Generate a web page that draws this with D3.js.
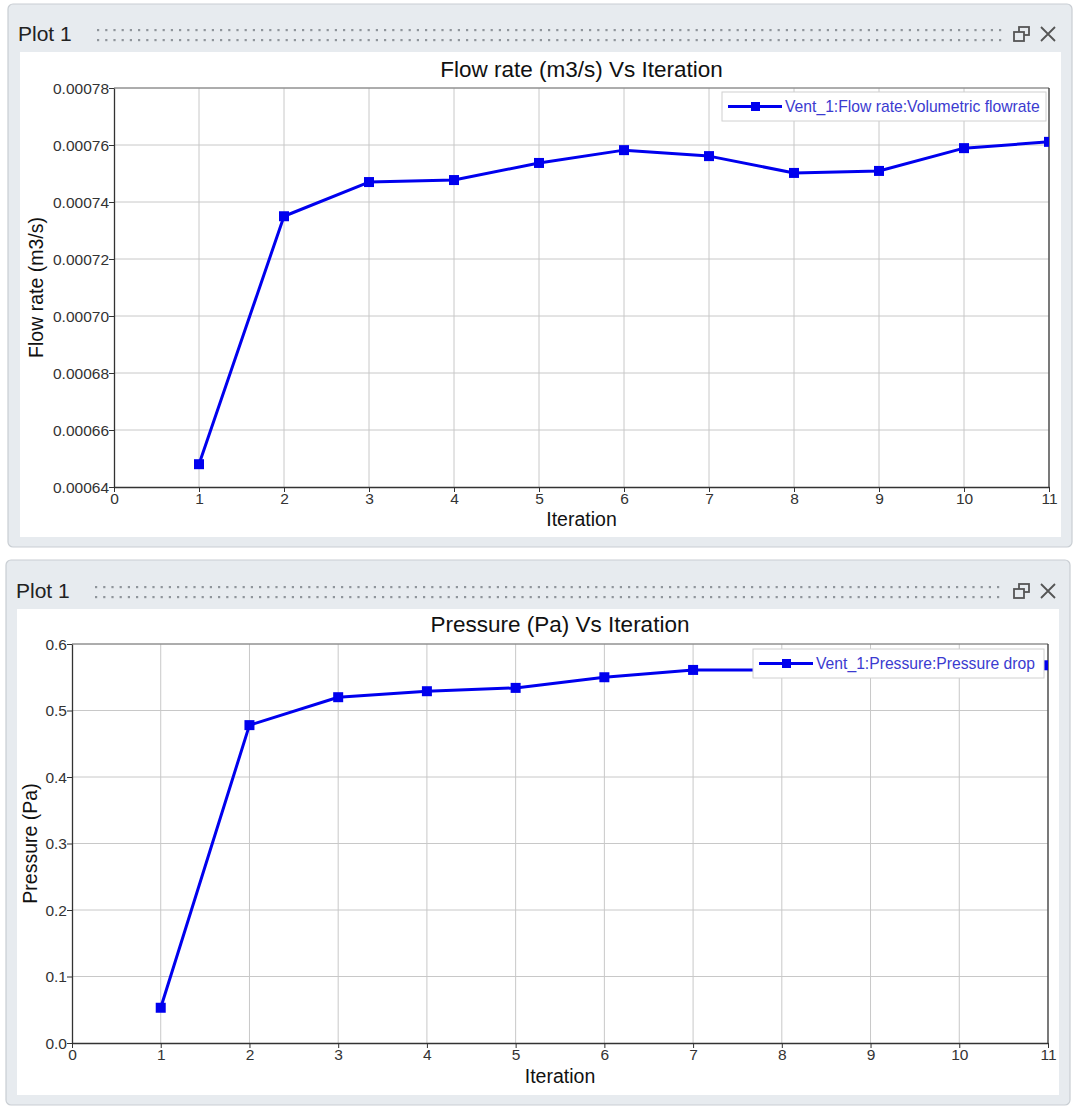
<!DOCTYPE html>
<html>
<head>
<meta charset="utf-8">
<script src="https://cdn.jsdelivr.net/npm/d3@7"></script>
<style>
  html, body { margin: 0; padding: 0; background: #ffffff; }
  svg { display: block; }
  text { font-family: "Liberation Sans", Arial, sans-serif; }
</style>
</head>
<body>
<svg id="chart" width="1080" height="1111"></svg>
<script>
// ---- Data ----
const iterations = [1, 2, 3, 4, 5, 6, 7, 8, 9, 10, 11];
const flowRate = [0.000648, 0.000735, 0.000747, 0.0007477, 0.0007537, 0.0007582, 0.0007561, 0.0007502, 0.0007509, 0.0007589, 0.0007611];
const pressureDrop = [0.053, 0.478, 0.520, 0.529, 0.534, 0.550, 0.561, 0.561, 0.563, 0.566, 0.568];
const xTicks = [0, 1, 2, 3, 4, 5, 6, 7, 8, 9, 10, 11];
const flowTicks = [0.00064, 0.00066, 0.00068, 0.00070, 0.00072, 0.00074, 0.00076, 0.00078];
const pressureTicks = [0.0, 0.1, 0.2, 0.3, 0.4, 0.5, 0.6];
const panelTitles = ["Plot 1", "Plot 1"];
const chartTitles = ["Flow rate (m3/s) Vs Iteration", "Pressure (Pa) Vs Iteration"];
const yLabels = ["Flow rate (m3/s)", "Pressure (Pa)"];
const xLabel = "Iteration";
const legendLabels = ["Vent_1:Flow rate:Volumetric flowrate", "Vent_1:Pressure:Pressure drop"];

const svg = d3.select("#chart");
const lineColor = "#0000ee";
const FONT = "Liberation Sans, Arial, sans-serif";

function drawPanel(cfg) {
  const g = svg.append("g");
  // outer panel
  g.append("rect").attr("x", cfg.ox).attr("y", cfg.oy).attr("width", cfg.ow).attr("height", cfg.oh)
    .attr("rx", 5).attr("fill", "#e7ebef").attr("stroke", "#c9ced3").attr("stroke-width", 1.2);
  // header
  g.append("text").attr("x", cfg.ox + 10).attr("y", cfg.headY).attr("font-size", 21).attr("fill", "#222")
    .text(cfg.panelTitle);
  // grip dots
  const dotXs = d3.range(cfg.dotX0, 1000, 8.2);
  [cfg.headY - 12, cfg.headY - 2].forEach(dy => {
    g.selectAll(null).data(dotXs).enter().append("rect")
      .attr("x", d => d).attr("y", dy).attr("width", 2.2).attr("height", 2.2).attr("fill", "#8f959b");
  });
  // icons: restore + close
  const ix = 1014, iy = cfg.headY - 14;
  g.append("rect").attr("x", ix + 5).attr("y", iy).attr("width", 10).attr("height", 8)
    .attr("fill", "none").attr("stroke", "#555").attr("stroke-width", 1.8);
  g.append("rect").attr("x", ix).attr("y", iy + 5).attr("width", 10).attr("height", 9)
    .attr("fill", "#e7ebef").attr("stroke", "#555").attr("stroke-width", 1.8);
  const cx = 1048, cy = iy + 7;
  g.append("path").attr("d", `M${cx-7},${cy-7}L${cx+7},${cy+7}M${cx+7},${cy-7}L${cx-7},${cy+7}`)
    .attr("stroke", "#555").attr("stroke-width", 1.8);
  // inner white
  g.append("rect").attr("x", cfg.ix).attr("y", cfg.iy).attr("width", cfg.iw).attr("height", cfg.ih)
    .attr("fill", "#ffffff");

  const x = d3.scaleLinear().domain([0, 11]).range([cfg.px0, cfg.px1]);
  const y = d3.scaleLinear().domain(cfg.yDomain).range([cfg.py1, cfg.py0]);

  // grid
  g.append("g").selectAll("line").data(xTicks.slice(1)).enter().append("line")
    .attr("x1", d => x(d)).attr("x2", d => x(d)).attr("y1", cfg.py0).attr("y2", cfg.py1)
    .attr("stroke", "#c8c8c8").attr("stroke-width", 1);
  g.append("g").selectAll("line").data(cfg.yTicks.slice(1)).enter().append("line")
    .attr("x1", cfg.px0).attr("x2", cfg.px1).attr("y1", d => y(d)).attr("y2", d => y(d))
    .attr("stroke", "#c8c8c8").attr("stroke-width", 1);
  // frame top/right
  g.append("line").attr("x1", cfg.px0).attr("x2", cfg.px1).attr("y1", cfg.py0).attr("y2", cfg.py0)
    .attr("stroke", "#777").attr("stroke-width", 1);
  g.append("line").attr("x1", cfg.px1).attr("x2", cfg.px1).attr("y1", cfg.py0).attr("y2", cfg.py1)
    .attr("stroke", "#333").attr("stroke-width", 1.2);

  // axes
  const xAxis = d3.axisBottom(x).tickValues(xTicks).tickFormat(d3.format("d")).tickSize(5).tickSizeOuter(0);
  const xg = g.append("g").attr("transform", `translate(0,${cfg.py1})`).call(xAxis);
  const yAxis = d3.axisLeft(y).tickValues(cfg.yTicks).tickFormat(cfg.yFormat).tickSize(5).tickSizeOuter(0);
  const yg = g.append("g").attr("transform", `translate(${cfg.px0},0)`).call(yAxis);
  [xg, yg].forEach(a => {
    a.attr("font-family", FONT).attr("font-size", 15.5);
    a.select(".domain").attr("stroke", "#333").attr("stroke-width", 1.3);
    a.selectAll(".tick line").attr("stroke", "#333");
    a.selectAll(".tick text").attr("fill", "#333").attr("font-size", 15.5).attr("font-family", FONT);
  });
  xg.selectAll(".tick text").attr("dy", 0).attr("y", 17);
  yg.selectAll(".tick text").attr("x", -5).attr("dy", "0.35em");

  // titles
  g.append("text").attr("x", (cfg.px0 + cfg.px1) / 2).attr("y", cfg.titleY).attr("text-anchor", "middle")
    .attr("font-size", 22.5).attr("fill", "#111").text(cfg.chartTitle);
  g.append("text").attr("x", (cfg.px0 + cfg.px1) / 2).attr("y", cfg.py1 + cfg.xlOff).attr("text-anchor", "middle")
    .attr("font-size", 19.5).attr("fill", "#111").text(xLabel);
  g.append("text").attr("transform", `translate(${cfg.ylx},${(cfg.py0 + cfg.py1) / 2}) rotate(-90)`)
    .attr("text-anchor", "middle").attr("font-size", 19.5).attr("fill", "#111").text(cfg.yLabel);

  // series
  const clipId = "clip" + cfg.id;
  svg.append("defs").append("clipPath").attr("id", clipId).append("rect")
    .attr("x", cfg.px0).attr("y", cfg.py0).attr("width", cfg.px1 - cfg.px0).attr("height", cfg.py1 - cfg.py0);
  const sg = g.append("g").attr("clip-path", `url(#${clipId})`);
  const pts = iterations.map((it, i) => [it, cfg.values[i]]);
  sg.append("path").datum(pts)
    .attr("d", d3.line().x(d => x(d[0])).y(d => y(d[1])))
    .attr("fill", "none").attr("stroke", lineColor).attr("stroke-width", 3).attr("stroke-linejoin", "round");
  sg.selectAll("rect.m").data(pts).enter().append("rect").attr("class", "m")
    .attr("x", d => x(d[0]) - 5).attr("y", d => y(d[1]) - 5).attr("width", 10).attr("height", 10)
    .attr("fill", lineColor);

  // legend
  const L = cfg.legend;
  g.append("rect").attr("x", L.x).attr("y", L.y).attr("width", L.w).attr("height", L.h)
    .attr("fill", "#ffffff").attr("stroke", "#d0d0d0").attr("stroke-width", 1);
  const ly = L.y + L.h / 2;
  g.append("line").attr("x1", L.x + 6).attr("x2", L.x + 60).attr("y1", ly).attr("y2", ly)
    .attr("stroke", lineColor).attr("stroke-width", 3);
  g.append("rect").attr("x", L.x + 29).attr("y", ly - 4.5).attr("width", 9).attr("height", 9).attr("fill", lineColor);
  g.append("text").attr("x", L.x + 63).attr("y", ly + 5.5).attr("font-size", 15.7).attr("fill", "#3b3bd0")
    .text(cfg.legendLabel);
}

drawPanel({
  id: 1, ox: 8, oy: 4, ow: 1064, oh: 543, headY: 41, dotX0: 97,
  ix: 20, iy: 52, iw: 1041, ih: 485,
  px0: 114, px1: 1049, py0: 88, py1: 487,
  yDomain: [0.00064, 0.00078], yTicks: flowTicks, yFormat: d3.format(".5f"),
  titleY: 77, ylx: 43, xlOff: 39, chartTitle: chartTitles[0], yLabel: yLabels[0], panelTitle: panelTitles[0],
  values: flowRate, legendLabel: legendLabels[0],
  legend: { x: 722, y: 92, w: 324, h: 29 }
});

drawPanel({
  id: 2, ox: 6, oy: 560, ow: 1064, oh: 545, headY: 598, dotX0: 95,
  ix: 17, iy: 609, iw: 1042, ih: 486,
  px0: 72, px1: 1048, py0: 644, py1: 1043,
  yDomain: [0, 0.6], yTicks: pressureTicks, yFormat: d3.format(".1f"),
  titleY: 632, ylx: 37, xlOff: 40, chartTitle: chartTitles[1], yLabel: yLabels[1], panelTitle: panelTitles[1],
  values: pressureDrop, legendLabel: legendLabels[1],
  legend: { x: 753, y: 649, w: 291, h: 29 }
});
</script>
</body>
</html>
